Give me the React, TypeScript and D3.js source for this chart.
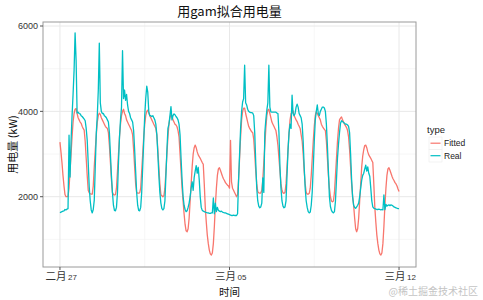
import React from 'react';
import * as d3 from 'd3';

// Hourly series starting 2016-02-27 00:00 (UTC), 337 points each
const START = Date.UTC(2016, 1, 27);

const realKW = [
  1625,1640,1650,1660,1670,1700,1690,1710,1720,3440,2460,3300,3900,4400,4960,5840,5200,3960,3980,3950,3940,3900,3880,3850,
  3820,3780,3600,3330,2800,2230,1900,1690,1620,1700,1920,2700,3490,3900,4500,5600,4200,4000,3950,3950,3900,3880,3850,3800,
  3750,3500,3000,2500,2100,1800,1680,1670,1750,2100,2800,3400,3800,4100,5420,4300,4500,4260,4400,4150,4000,3950,3850,3800,
  3750,3550,3100,2600,2100,1800,1680,1670,1750,2100,2700,3300,3900,4300,4590,4450,4000,3900,3900,3880,3900,3850,3800,3700,
  3450,3000,2500,2100,1850,1720,1690,1720,1900,2500,3100,3600,3700,3900,4110,3800,3900,3940,3920,3880,3850,3800,3700,3450,
  2900,2400,2010,1800,1700,1650,1670,1750,1850,2000,2200,2350,2150,2450,2600,2730,2550,2690,2400,2000,1750,1680,1660,1650,
  1640,1630,1620,1620,1610,1610,1620,1620,1970,1600,1850,1650,1750,1680,1660,1650,1660,1640,1630,1620,1620,1610,1600,1590,
  1580,1570,1560,1560,1570,1560,1560,1560,1600,2390,3000,3600,4000,4220,4300,5080,4200,4150,4050,4000,3980,3970,3970,3960,
  3900,3500,2800,2200,1900,1780,1740,1760,1850,2440,2100,3500,3800,4030,4200,5080,4100,3990,3980,3980,3980,3980,3980,3960,
  3950,3500,2700,2200,1900,1780,1740,1760,1900,2500,3100,3500,3700,3600,4380,3950,3900,3950,4100,4170,4100,3950,3900,3850,
  3700,3300,2700,2200,1900,1750,1650,1620,1640,1800,2120,2700,3300,3800,4000,4150,3950,3900,4000,4050,4100,4100,4080,4000,
  3700,3200,2600,2000,1770,1680,1640,1620,1650,1900,2400,2900,3230,3500,3720,3780,3760,3740,3720,3700,3700,3680,3650,3500,
  3000,2400,2000,1800,1750,1730,1760,1800,1850,2000,2200,2390,2500,2550,2650,2740,2600,2700,2550,2480,2200,1900,1760,1730,
  1720,1710,1700,1700,1710,1700,1690,1700,1690,2040,1700,1820,1780,1800,1810,1790,1810,1800,1780,1760,1750,1740,1730,1720,
  1720,
];

const fittedKW = [
  3280,3050,2800,2500,2250,2050,2000,2000,2010,2200,2600,3000,3400,3750,3950,4050,4070,3950,3850,3800,3750,3720,3650,3600,
  3560,3300,2900,2500,2150,2090,2070,2060,2060,2250,2700,3100,3450,3750,3900,3960,3930,3850,3800,3750,3700,3650,3620,3600,
  3500,3200,2800,2400,2100,2050,2040,2050,2200,2600,3000,3400,3700,3900,4000,4050,3950,3900,3800,3750,3700,3650,3600,3550,
  3450,3100,2700,2300,2100,2085,2085,2090,2200,2600,3000,3400,3700,3900,4000,4030,3960,3900,3850,3800,3750,3700,3650,3600,
  3450,3100,2700,2300,2050,2020,2000,2020,2200,2600,3000,3400,3700,3850,3930,3900,3800,3750,3700,3680,3640,3550,3400,3000,
  2600,2200,1900,1600,1350,1200,1180,1250,1500,1900,2300,2700,3000,3150,3210,3150,3050,2980,2940,2900,2850,2800,2760,2300,
  1750,1400,1100,900,750,660,635,680,900,1300,1800,2200,2500,2650,2680,2620,2550,2480,2420,2380,2330,2300,2270,2250,
  2200,3320,2350,2200,2150,2100,2050,2000,2050,2400,2900,3400,3800,4000,4075,4075,3950,3850,3750,3650,3600,3560,3520,3500,
  3350,3000,2600,2300,2120,2090,2085,2085,2150,2400,2800,3200,3600,3900,4030,4050,3950,3850,3750,3700,3650,3600,3550,3400,
  3200,2900,2600,2300,2150,2090,2080,2100,2300,2700,3100,3500,3800,3950,3980,4010,3900,3850,3800,3760,3700,3650,3600,3450,
  3300,3000,2600,2300,2100,2060,2060,2080,2200,2500,2900,3300,3650,3900,3990,3950,3900,3850,3800,3700,3650,3610,3580,3550,
  3300,2900,2500,2200,2000,1900,1880,1900,2100,2500,2900,3300,3600,3800,3840,3870,3800,3750,3700,3660,3620,3550,3400,3100,
  2700,2300,2000,1800,1500,1250,1180,1250,1500,1900,2300,2700,2950,3100,3200,3210,3150,3050,2980,2940,2900,2850,2800,2300,
  1750,1400,1100,900,750,660,635,680,900,1300,1800,2200,2500,2650,2680,2620,2550,2480,2420,2380,2330,2300,2250,2180,
  2120,
];

const seriesNames = ['Fitted', 'Real'];
const seriesColors = ['#F8766D', '#00BFC4'];
const yTicks = [2000, 4000, 6000];
const yMinorTicks = [1000, 3000, 5000];
const yDomain = [353, 6094];
const xTickDays = [Date.UTC(2016, 1, 27), Date.UTC(2016, 2, 5), Date.UTC(2016, 2, 12)];
const monthNames = ['一月', '二月', '三月', '四月', '五月', '六月', '七月', '八月', '九月', '十月', '十一月', '十二月'];

const CJK = '"Noto Sans CJK SC", "Noto Sans", sans-serif';
const LAT = '"Liberation Sans", Arial, sans-serif';

export default function App() {
  const W = 483, H = 300;
  const pl = 43, pr = 416, pt = 22, pb = 267;
  const HOUR = 3600e3;
  const t0 = START, t1 = START + (realKW.length - 1) * HOUR;
  const span = t1 - t0;
  const x = d3.scaleUtc()
    .domain([new Date(t0 - 0.05 * span), new Date(t1 + 0.05 * span)])
    .range([pl, pr]);
  const y = d3.scaleLinear().domain(yDomain).range([pb, pt]);

  const line = d3.line<number>()
    .x((_, i) => x(new Date(START + i * HOUR)))
    .y((d) => y(d));

  const series = [fittedKW, realKW];
  const xMinor = xTickDays.slice(0, -1).map((d, i) => (d + xTickDays[i + 1]) / 2);
  const fmtDay = d3.utcFormat('%d');

  return (
    <svg width={W} height={H} style={{ position: 'absolute', left: 0, top: 0, background: '#fff' }}>
      <rect x={0} y={0} width={W} height={H} fill="#fff" />
      {/* grid */}
      {yMinorTicks.map((v) => (
        <line key={'ym' + v} x1={pl} x2={pr} y1={y(v)} y2={y(v)} stroke="#f4f4f4" strokeWidth={0.7} />
      ))}
      {xMinor.map((d) => (
        <line key={'xm' + d} x1={x(new Date(d))} x2={x(new Date(d))} y1={pt} y2={pb} stroke="#f4f4f4" strokeWidth={0.7} />
      ))}
      {yTicks.map((v) => (
        <line key={'yg' + v} x1={pl} x2={pr} y1={y(v)} y2={y(v)} stroke="#e8e8e8" strokeWidth={1} />
      ))}
      {xTickDays.map((d) => (
        <line key={'xg' + d} x1={x(new Date(d))} x2={x(new Date(d))} y1={pt} y2={pb} stroke="#e8e8e8" strokeWidth={1} />
      ))}
      {/* lines */}
      {series.map((s, i) => (
        <path key={seriesNames[i]} d={line(s) || ''} fill="none" stroke={seriesColors[i]} strokeWidth={1.3} strokeLinejoin="round" />
      ))}
      {/* panel border */}
      <rect x={pl} y={pt} width={pr - pl} height={pb - pt} fill="none" stroke="#9a9a9a" strokeWidth={1} />
      {/* y axis */}
      {yTicks.map((v) => (
        <g key={'yt' + v}>
          <line x1={pl - 3} x2={pl} y1={y(v)} y2={y(v)} stroke="#555" strokeWidth={1} />
          <text x={pl - 5} y={y(v)} dy="0.35em" textAnchor="end" fontFamily={LAT} fontSize={9} fill="#333">{v}</text>
        </g>
      ))}
      {/* x axis */}
      {xTickDays.map((d) => {
        const dt = new Date(d);
        const cx = x(dt);
        return (
          <g key={'xt' + d}>
            <line x1={cx} x2={cx} y1={pb} y2={pb + 3} stroke="#555" strokeWidth={1} />
            <text x={cx + 6.5} y={pb + 13} textAnchor="end" fontFamily={CJK} fontSize={10.5} fill="#333">{monthNames[dt.getUTCMonth()]}</text>
            <text x={cx + 8} y={pb + 13} textAnchor="start" fontFamily={LAT} fontSize={8} fill="#333">{fmtDay(dt)}</text>
          </g>
        );
      })}
      {/* titles */}
      <text x={(pl + pr) / 2} y={16} textAnchor="middle" fontFamily={CJK} fontSize={13} fill="#111">用gam拟合用电量</text>
      <text x={(pl + pr) / 2} y={296} textAnchor="middle" fontFamily={CJK} fontSize={10.5} fill="#111">时间</text>
      <text transform={`translate(17,${(pt + pb) / 2}) rotate(-90)`} textAnchor="middle" fontFamily={CJK} fontSize={11} fill="#111">用电量 (kW)</text>
      {/* legend */}
      <text x={427} y={133} fontFamily={LAT} fontSize={9.5} fill="#222">type</text>
      {seriesNames.map((n, i) => (
        <g key={'lg' + n}>
          <rect x={429} y={137 + i * 12.5} width={13} height={12.5} fill="#fff" stroke="#ececec" strokeWidth={0.6} />
          <line x1={430.5} x2={440.5} y1={143.2 + i * 12.5} y2={143.2 + i * 12.5} stroke={seriesColors[i]} strokeWidth={1.2} />
          <text x={444} y={146.3 + i * 12.5} fontFamily={LAT} fontSize={8.5} fill="#222">{n}</text>
        </g>
      ))}
      {/* watermark */}
      <text x={478} y={295} textAnchor="end" fontFamily={CJK} fontSize={10} fill="#c4c4c4">@稀土掘金技术社区</text>
    </svg>
  );
}
